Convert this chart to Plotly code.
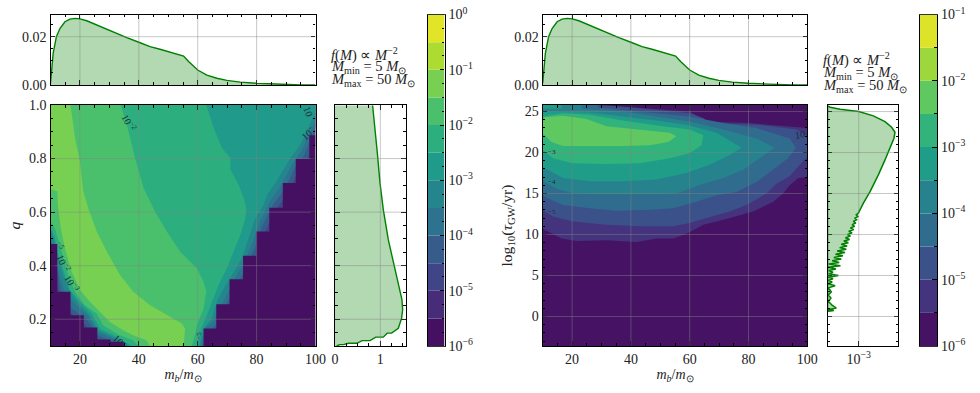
import numpy as np
import plotly.graph_objects as go
from plotly.colors import sample_colorscale

W, H = 980, 393
FONT = "Liberation Serif"
GREEN = "#008000"
GREEN_FILL = "rgba(0,128,0,0.3)"
GRID = "rgba(130,130,130,0.5)"

# marginal of the primary mass (same in both panels)
m_hist = [10, 10.3, 10.9, 12.0, 13.2, 14.9, 16.6, 18.3, 20, 22.3, 25.7, 29.1, 32.5, 35.9, 40, 43.8, 47.2,
          51.8, 55.2, 56.9, 58, 60, 63.1, 66.5, 69.9, 74.5, 80, 84.7, 90.4, 95, 100]
p_hist = [0.0007, 0.0062, 0.0131, 0.02, 0.0234, 0.0262, 0.0273, 0.0276, 0.0274, 0.0266, 0.0248, 0.023,
          0.0214, 0.0196, 0.0177, 0.0159, 0.0148, 0.0131, 0.012, 0.0097, 0.0083, 0.0062, 0.0041, 0.0028,
          0.0019, 0.0012, 0.0007, 0.0004, 0.0001, 0, 0]

# marginal of q
q_hist = [0.998, 0.921, 0.821, 0.709, 0.609, 0.497, 0.409, 0.322, 0.272, 0.235, 0.204, 0.166, 0.148, 0.148,
          0.133, 0.133, 0.12, 0.12, 0.11, 0.11, 0.105, 0.105, 0.1]
pq_hist = [0.83, 0.88, 0.934, 0.993, 1.066, 1.176, 1.30, 1.42, 1.478, 1.493, 1.47, 1.397, 1.25, 1.15,
           1.066, 0.9, 0.772, 0.6, 0.478, 0.3, 0.184, 0.1, 0.037]

# marginal of log10(tau), x given as log10 of the density
tau_hist = [25.7, 25.53, 25.28, 25, 24.47, 23.78, 23.09, 22.48, 21.75, 20.53, 19.1, 17.28, 15.24, 13.82,
            12.6, 12.4, 12.2, 12.0, 11.8, 11.6, 11.4, 11.2, 11.0, 10.8, 10.6, 10.4, 10.2, 10.0, 9.8, 9.6, 9.4, 9.2,
            9.0, 8.8, 8.6, 8.4, 8.2, 8.0, 7.8, 7.6, 7.4, 7.2, 7.0, 6.8, 6.6, 6.4, 6.2, 6.0, 5.8, 5.6, 5.4, 5.2,
            5.0, 4.8, 4.6, 4.4, 4.2, 4.0, 3.74, 3.5, 3.0, 2.64, 2.24, 1.83, 1.42, 1.02, 0.85, 0.73, 0.61]
logp_tau = [-3.752, -3.688, -3.448, -3, -2.648, -2.368, -2.208, -2.128, -2.152, -2.248, -2.368, -2.528, -2.728, -2.888,
            -3.01, -3.06, -3.02, -3.09, -3.05, -3.13, -3.07, -3.16, -3.10, -3.2, -3.12, -3.24, -3.16, -3.27, -3.2, -3.32,
            -3.22, -3.36, -3.25, -3.42, -3.28, -3.46, -3.3, -3.52, -3.33, -3.56, -3.38, -3.6, -3.42, -3.64, -3.47, -3.72,
            -3.44, -3.73, -3.55, -3.72, -3.62, -3.72, -3.49, -3.73, -3.62, -3.73, -3.64, -3.73, -3.57, -3.73, -3.66, -3.73,
            -3.67, -3.73, -3.65, -3.54, -3.73, -3.6, -3.75]

# left panel, regions above each contour level (m, q)
a_m = [10, 16.8, 18.3, 20, 21.1, 22.8, 25.7, 29.1, 33.6, 38.1, 43.8, 50.6, 54.6, 55.7, 55.2, 43.8, 42.7, 38.1, 34.7,
       30.2, 26.8, 23.4, 20, 17.2, 14.9, 13.5, 12.6, 12.3, 10.3, 10]
a_q = [1, 1, 0.8775, 0.79, 0.6775, 0.615, 0.5275, 0.4525, 0.365, 0.3025, 0.2525, 0.209, 0.184, 0.165, 0.1, 0.1, 0.121,
       0.14, 0.159, 0.19, 0.2275, 0.265, 0.309, 0.3775, 0.465, 0.54, 0.615, 0.6775, 0.684, 0.684]
b_m = [10, 33.8, 35.9, 38.7, 41.6, 45.5, 49.5, 54, 59.7, 62, 62.9, 62, 59.7, 59.1, 58, 39.9, 38.1, 32.5, 27.9, 25.7,
       21.7, 18.3, 16, 14.3, 12.3, 11.5, 10.3, 10]
b_q = [1, 1, 0.9275, 0.8025, 0.69, 0.6025, 0.5275, 0.4525, 0.39, 0.34, 0.3025, 0.24, 0.1775, 0.14, 0.1, 0.1, 0.121,
       0.146, 0.1775, 0.221, 0.2525, 0.3025, 0.365, 0.4275, 0.5025, 0.54, 0.559, 0.565]
c_m = [10, 62.9, 65.4, 68.2, 71.1, 71.1, 73.9, 75.6, 76.5, 76.2, 74.5, 72.2, 69.9, 67.1, 65.4, 63.1, 61.4, 59.9, 37.6,
       31.9, 26.8, 24, 20, 16.6, 14.9, 12.6, 11.5, 10]
c_q = [1, 1, 0.915, 0.84, 0.8025, 0.759, 0.7025, 0.6525, 0.615, 0.5775, 0.515, 0.4525, 0.39, 0.3275, 0.2775, 0.215,
       0.171, 0.1, 0.1, 0.1375, 0.165, 0.221, 0.265, 0.309, 0.365, 0.44, 0.5025, 0.54]
d_m = [10, 100, 100, 97.7, 94.9, 91.5, 88.7, 86.4, 83.6, 82.4, 79.6, 77.3, 75, 72.2, 68.8, 66.5, 64.8, 62, 60.6, 37,
       31.3, 26.2, 23.4, 19.4, 16, 14.3, 12, 10.9, 10]
d_q = [1, 1, 0.975, 0.921, 0.8525, 0.8025, 0.7525, 0.709, 0.665, 0.6275, 0.5775, 0.5025, 0.4275, 0.375, 0.315, 0.265,
       0.2025, 0.165, 0.1, 0.1, 0.134, 0.159, 0.215, 0.259, 0.315, 0.365, 0.4525, 0.509, 0.546]
e_m = [10, 100, 100, 98.2, 95.3, 92.5, 90.2, 87.7, 85, 83.3, 81, 78.8, 75.9, 73, 69.7, 67.4, 65.1, 62.3, 61.2, 35.9,
       31.1, 25.7, 22.9, 18.7, 14.9, 13.2, 11.5, 10.3, 10]
e_q = [1, 1, 0.94, 0.9, 0.83, 0.784, 0.74, 0.69, 0.649, 0.611, 0.561, 0.49, 0.415, 0.359, 0.29, 0.24, 0.19, 0.165, 0.1,
       0.1, 0.128, 0.154, 0.209, 0.252, 0.3, 0.359, 0.43, 0.49, 0.522]
f_m = [10, 100, 100, 98.7, 96, 93.2, 91, 88.5, 85.8, 84, 81.8, 79.5, 76.7, 74, 70.5, 68.2, 65.8, 63, 61.8, 35, 30.2,
       26, 22.3, 17.2, 13.7, 12.3, 10]
f_q = [1, 1, 0.92, 0.88, 0.81, 0.77, 0.72, 0.67, 0.63, 0.595, 0.545, 0.47, 0.4, 0.345, 0.27, 0.225, 0.175, 0.15, 0.1,
       0.1, 0.122, 0.14, 0.2, 0.24, 0.29, 0.39, 0.5]
g_m = [10, 100, 100, 99.5, 97, 94, 91.8, 89.3, 86.5, 84.8, 82.6, 80.3, 77.5, 75, 71.3, 69, 66.6, 63.8, 62.3, 34, 29,
       25, 21, 16, 13, 12, 10]
g_q = [1, 1, 0.9, 0.86, 0.79, 0.75, 0.7, 0.65, 0.61, 0.57, 0.52, 0.45, 0.38, 0.33, 0.25, 0.21, 0.16, 0.14, 0.1, 0.1,
       0.118, 0.13, 0.19, 0.23, 0.28, 0.4, 0.49]
h_m = [10, 100, 100, 98, 95, 92.8, 90.3, 87.4, 85.8, 83.5, 81.2, 78.4, 76, 72.2, 70, 67.5, 64.8, 63, 33, 27, 24, 19,
       14, 12.4, 11.5, 10]
h_q = [1, 1, 0.85, 0.77, 0.73, 0.68, 0.63, 0.59, 0.55, 0.5, 0.43, 0.36, 0.31, 0.23, 0.19, 0.15, 0.12, 0.1, 0.1, 0.11,
       0.12, 0.18, 0.22, 0.27, 0.4, 0.48]
left_bands = [(2, h_m, h_q), (3, g_m, g_q), (4, f_m, f_q), (5, e_m, e_q), (6, d_m, d_q), (7, c_m, c_q), (8, b_m, b_q),
              (9, a_m, a_q)]

# empty corners of the (m, q) plane
stair_r_m = [62, 62, 66.3, 66.3, 70.8, 70.8, 75.4, 75.4, 79.9, 79.9, 84.3, 84.3, 88.9, 88.9, 93.3, 93.3, 97.9, 97.9, 100, 100]
stair_r_q = [0.1, 0.165, 0.165, 0.256, 0.256, 0.349, 0.349, 0.4375, 0.4375, 0.5275, 0.5275, 0.616, 0.616, 0.709, 0.709,
             0.799, 0.799, 0.8875, 0.8875, 0.1]
stair_l_m = [10, 12.3, 12.3, 16.8, 16.8, 21.3, 21.3, 25.9, 25.9, 30.4, 30.4, 34.9, 34.9, 10]
stair_l_q = [0.481, 0.481, 0.3025, 0.3025, 0.215, 0.215, 0.169, 0.169, 0.124, 0.124, 0.116, 0.116, 0.1, 0.1]

# right panel, regions above each contour level (m, log10 tau)
r1_m = [10, 10.7, 16.9, 24.9, 31.7, 43, 53.2, 55.5, 52.7, 46.4, 37.3, 26, 16.9, 13, 10.7, 10]
r1_t = [24, 24.3, 24.5, 24.1, 23.2, 22.8, 22.4, 22, 21.3, 20.9, 20.8, 20.8, 20.8, 21.3, 22.1, 22.2]
r2_m = [10, 16.9, 26, 37.3, 48.7, 60, 64.6, 64, 60, 53.2, 43, 31.7, 20.3, 13.5, 10]
r2_t = [24.4, 24.8, 24.6, 23.9, 23.3, 22.8, 22.1, 20.9, 19.9, 19.3, 18.7, 18.6, 18.7, 19.3, 20.3]
r3_m = [10, 26, 37.3, 48.7, 60, 69.1, 77.6, 73.6, 66.8, 58.9, 48.7, 37.3, 26, 16.9, 11.8, 10, None, 10, 16.4, 16.4, 10]
r3_t = [25, 24.9, 24.4, 23.9, 23.3, 22.4, 20.6, 19.7, 18.5, 17.5, 16.7, 16.5, 16.5, 16.9, 17.9, 18.1, None, 25.8, 25.8, 25.35, 25.35]
r4_m = [10, 23.2, 23.2, 37.3, 48.7, 60, 71.4, 82.7, 88.9, 83.8, 78.2, 71.4, 64.6, 55.5, 45.3, 31.7, 20.3, 14.7, 10.7, 10]
r4_t = [25.8, 25.8, 25.3, 25, 24.4, 23.8, 22.8, 21.7, 20.6, 19.3, 17.9, 16.9, 16.2, 15, 14.9, 14.9, 15, 15.6, 16.4, 16.7]
r5_m = [10, 28.8, 28.8, 48.7, 60, 71.4, 82.7, 94, 96.1, 93.5, 88.4, 82.7, 75.9, 69.1, 62.3, 54.4, 45.3, 35.1, 26, 16.9, 11.8, 10]
r5_t = [25.8, 25.8, 25.5, 24.8, 24.4, 23.6, 23, 21.7, 20.6, 19.3, 17.9, 16.4, 15.2, 14.8, 14, 13.2, 13, 12.9, 13.2, 13.6, 14.4, 14.8]
r6_m = [10, 28.8, 37.3, 60, 64.6, 66.8, 82.7, 96.3, 100, 100, 96.9, 94, 89.5, 86.1, 79.3, 73.6, 65.7, 60, 54.4, 43, 31.7, 20.3, 13.5, 10]
r6_t = [25.8, 25.8, 25.6, 24.8, 24.2, 23.6, 23.4, 22.8, 22, 19.5, 18.3, 17.1, 16.2, 15, 13.6, 12.8, 12, 11.4, 11, 11, 11.2, 11.6, 12.2, 13]
r7_m = [10, 28.8, 60, 65.7, 80, 100, 100, 96.9, 94, 91.8, 88.4, 81.6, 71.4, 64.6, 58.9, 54.4, 48.7, 41.9, 31.7, 21.5, 16.4, 11.8, 10]
r7_t = [25.8, 25.8, 25, 23.8, 23.6, 23, 17, 16.9, 16, 15, 14, 12.8, 11.8, 11.2, 10.1, 9.5, 9.5, 9.1, 9.3, 9.2, 9.5, 10.3, 10.7]
right_bands = [(1, r7_m, r7_t), (2, r6_m, r6_t), (3, r5_m, r5_t), (4, r4_m, r4_t), (5, r3_m, r3_t), (6, r2_m, r2_t),
               (7, r1_m, r1_t)]

# colorbar levels, log10
left_levels = [-6, -5.5, -5, -4.5, -4, -3.5, -3, -2.5, -2, -1.5, -1, -0.5, 0]
right_levels = [-6, -5.5, -5, -4.5, -4, -3.5, -3, -2.5, -2, -1.5, -1]

m_ticks = [20, 40, 60, 80, 100]
q_ticks = [0.2, 0.4, 0.6, 0.8, 1.0]
t_ticks = [0, 5, 10, 15, 20, 25]
p_ticks = [0.0, 0.02]

# contour labels: text, m, y, angle
left_labels = [("10<sup>−2</sup>", 36.5, 0.935, 62), ("10", 97.5, 0.975, 70), ("10<sup>−</sup>", 97.5, 0.895, -40),
               ("<sup>−5</sup>", 13.7, 0.475, 60), ("10<sup>−2</sup>", 14.5, 0.41, 65), ("10<sup>−3</sup>", 17.2, 0.334, 60),
               ("<sup>−5</sup>", 60.6, 0.14, -90), ("10<sup>−</sup>", 33.6, 0.118, 45)]
right_labels = [("10", 97.5, 22.2, -8), ("<sup>−3</sup>", 13, 20.1, 0), ("<sup>−4</sup>", 13, 16.4, 0), ("<sup>−5</sup>", 13, 12.8, 0)]

NOTE_LINES = ["<i>f</i>(<i>M</i>) ∝ <i>M</i><sup>−2</sup>", "<i>M</i><sub>min</sub> = 5 <i>M</i><sub>⊙</sub>",
              "<i>M</i><sub>max</sub> = 50 <i>M</i><sub>⊙</sub>"]


def dom_x(a, b):
    return [a / W, b / W]


def dom_y(top, bottom):
    return [1 - bottom / H, 1 - top / H]


def axis_style(**kw):
    base = dict(showline=True, linecolor="black", linewidth=1.2, mirror="allticks", ticks="inside", ticklen=4.5,
                tickwidth=1, tickcolor="black", showgrid=False, zeroline=False, automargin=False,
                tickfont=dict(family=FONT, size=14, color="#222"))
    base.update(kw)
    return base


def band_colors(n):
    return sample_colorscale("Viridis", [(i + 0.5) / n for i in range(n)])


def area(x, y, color, xa, ya):
    return go.Scatter(x=x, y=y, mode="lines", fill="toself", fillcolor=color, line=dict(width=0),
                      hoverinfo="skip", showlegend=False, xaxis=xa, yaxis=ya)


fig = go.Figure()
layout = {}
shapes = []
annotations = []


def add_grid(xa, ya, xvals=(), yvals=()):
    for v in xvals:
        shapes.append(dict(type="line", xref=xa, yref=ya + " domain", x0=v, x1=v, y0=0, y1=1, layer="above",
                           line=dict(color=GRID, width=0.9)))
    for v in yvals:
        shapes.append(dict(type="line", xref=xa + " domain", yref=ya, x0=0, x1=1, y0=v, y1=v, layer="above",
                           line=dict(color=GRID, width=0.9)))


def add_panel(n0, x_main, x_side, x_cbar, side_range, y_range, y_title, y_ticks, y_minor, levels, cbar_minor,
              bands, extra, labels, note_x, note_y, side_traces, side_xaxis, y_standoff):
    names = [str(n0 + i) if n0 + i > 1 else "" for i in range(4)]
    xa = ["x" + s for s in names]
    ya = ["y" + s for s in names]
    key = lambda a, s: a + "axis" + s

    # top marginal
    fig.add_trace(go.Scatter(x=m_hist, y=p_hist, mode="lines", fill="tozeroy", fillcolor=GREEN_FILL,
                             line=dict(color=GREEN, width=1.4), hoverinfo="skip", showlegend=False,
                             xaxis=xa[0], yaxis=ya[0]))
    layout[key("x", names[0])] = axis_style(domain=dom_x(*x_main), range=[10, 100], anchor=ya[0], tickvals=m_ticks,
                                            showticklabels=False, minor=dict(ticks="inside", dtick=5, ticklen=2.5, tickcolor="black"))
    layout[key("y", names[0])] = axis_style(domain=dom_y(14.5, 85), range=[0, 0.0292], anchor=xa[0], tickvals=p_ticks,
                                            ticktext=["0.00", "0.02"], minor=dict(ticks="inside", dtick=0.005, ticklen=2.5, tickcolor="black"))
    add_grid(xa[0], ya[0], m_ticks[:-1], p_ticks[1:])

    # main contour panel
    n_bands = len(levels) - 1
    colors = band_colors(n_bands)
    fig.add_trace(area([10, 100, 100, 10], [y_range[0], y_range[0], y_range[1], y_range[1]], colors[0], xa[1], ya[1]))
    for idx, bx, by in bands:
        fig.add_trace(area(bx, by, colors[idx], xa[1], ya[1]))
    for bx, by in extra:
        fig.add_trace(area(bx, by, colors[0], xa[1], ya[1]))
    layout[key("x", names[1])] = axis_style(domain=dom_x(*x_main), range=[10, 100], anchor=ya[1], tickvals=m_ticks,
                                            minor=dict(ticks="inside", dtick=5, ticklen=2.5, tickcolor="black"),
                                            title=dict(text="<i>m<sub>b</sub></i>/<i>m</i><sub>⊙</sub>", standoff=3,
                                                       font=dict(family=FONT, size=14, color="#222")))
    layout[key("y", names[1])] = axis_style(domain=dom_y(105, 346), range=y_range, anchor=xa[1], tickvals=y_ticks,
                                            ticktext=[("%.1f" % v if y_minor < 1 else str(v)) for v in y_ticks],
                                            minor=dict(ticks="inside", dtick=y_minor, ticklen=2.5, tickcolor="black"),
                                            title=dict(text=y_title, standoff=y_standoff, font=dict(family=FONT, size=15.5, color="#222")))
    add_grid(xa[1], ya[1], m_ticks[:-1], [v for v in y_ticks if v < y_range[1]])
    for text, lx, ly, angle in labels:
        annotations.append(dict(text=text, x=lx, y=ly, xref=xa[1], yref=ya[1], showarrow=False, textangle=angle,
                                font=dict(family=FONT, size=10, color="#1c2b33")))

    # side marginal
    for tr in side_traces:
        tr.update(xaxis=xa[2], yaxis=ya[2])
        fig.add_trace(tr)
    side_axis = axis_style(domain=dom_x(*x_side), range=side_range, anchor=ya[2])
    side_axis.update(side_xaxis)
    layout[key("x", names[2])] = side_axis
    layout[key("y", names[2])] = axis_style(domain=dom_y(105, 346), range=y_range, anchor=xa[2], tickvals=y_ticks,
                                            showticklabels=False, minor=dict(ticks="inside", dtick=y_minor, ticklen=2.5, tickcolor="black"))
    add_grid(xa[2], ya[2], side_xaxis["tickvals"][-1:], [v for v in y_ticks if v < y_range[1]])

    # colorbar
    lev = np.array(levels)
    fig.add_trace(go.Bar(x=[0.5] * n_bands, y=list(np.diff(lev)), base=levels[:-1], width=1, marker=dict(color=colors, line=dict(width=0)),
                         hoverinfo="skip", showlegend=False, xaxis=xa[3], yaxis=ya[3]))
    decades = [v for v in levels if float(v).is_integer()]
    layout[key("x", names[3])] = dict(domain=dom_x(*x_cbar), range=[0, 1], anchor=ya[3], showline=True, linecolor="#333",
                                      linewidth=1.2, mirror=True, ticks="", showticklabels=False, showgrid=False, zeroline=False)
    layout[key("y", names[3])] = axis_style(domain=dom_y(14.5, 346), range=[levels[0], levels[-1]], anchor=xa[3], side="right",
                                            mirror=True, tickvals=decades, ticktext=["10<sup>%s</sup>" % str(int(v)).replace("-", "−") for v in decades],
                                            minor=dict(ticks="inside", dtick=cbar_minor, ticklen=2.5, tickcolor="black"))

    for line, yp in zip(NOTE_LINES, note_y):
        annotations.append(dict(text=line, x=note_x / W, y=1 - yp / H, xref="paper", yref="paper", xanchor="left",
                                showarrow=False, font=dict(family=FONT, size=14.5, color="#222")))


q_trace = [go.Scatter(x=pq_hist, y=q_hist, mode="lines", fill="tozerox", fillcolor=GREEN_FILL,
                      line=dict(color=GREEN, width=1.4), hoverinfo="skip", showlegend=False)]
add_panel(1, (50.5, 315.5), (335, 405.7), (428, 444.5), [0, 1.56], [0.1, 1.0], "<i>q</i>", q_ticks, 0.05, left_levels, 0.25,
          left_bands, [(stair_r_m, stair_r_q), (stair_l_m, stair_l_q)], left_labels, 329, [43, 56, 69], q_trace,
          dict(tickvals=[0, 1], ticktext=["0", "1"], minor=dict(ticks="inside", dtick=0.25, ticklen=2.5, tickcolor="black")), 4)

p_tau = list(np.power(10.0, logp_tau))
tau_trace = [go.Scatter(x=p_tau + [10 ** -3.752], y=tau_hist + [tau_hist[0]], mode="lines", fill="toself", fillcolor=GREEN_FILL,
                        line=dict(color=GREEN, width=1.5), hoverinfo="skip", showlegend=False)]
add_panel(5, (542.7, 807.3), (827.5, 898.3), (920, 937), [-3.752, -2.048], [-3.6, 25.8], "log<sub>10</sub>(<i>τ</i><sub>GW</sub>/yr)",
          t_ticks, 1, right_levels, 0.5, right_bands, [], right_labels, 821, [48, 62, 75], tau_trace,
          dict(type="log", tickvals=[1e-3], ticktext=["10<sup>−3</sup>"]), 8)

fig.update_layout(width=W, height=H, margin=dict(l=0, r=0, t=0, b=0), paper_bgcolor="white", plot_bgcolor="white",
                  shapes=shapes, annotations=annotations, showlegend=False, barmode="overlay", **layout)

fig.write_html("out.html", config={"displayModeBar": False},
               post_script="document.body.style.margin='0';document.body.style.overflow='hidden';")
